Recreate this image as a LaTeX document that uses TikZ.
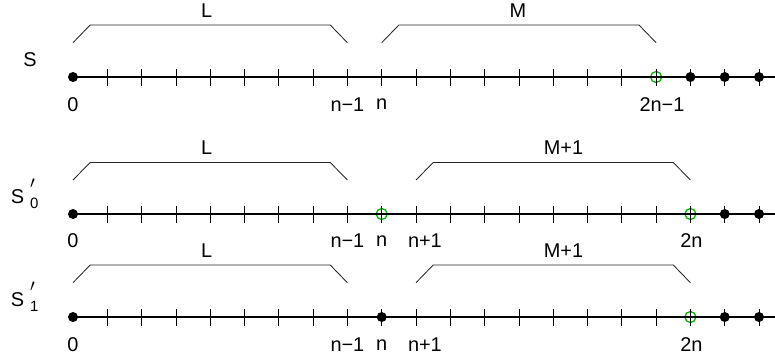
\documentclass[tikz,border=0pt]{standalone}
\usepackage{fontspec}
\setmainfont{Liberation Sans}
\definecolor{xgreen}{HTML}{00B400}
\newcommand{\primed}[1]{S\kern6bp\makebox[0pt][l]{\raisebox{15bp}{\fontsize{17}{17}\selectfont$\prime$}}\raisebox{-5bp}{\fontsize{15}{15}\selectfont #1}}

\begin{document}
\begin{tikzpicture}[
    x=34.3bp, y=-1bp,
    axis/.style={line width=1.4bp},
    tickmark/.style={line width=0.75bp},
    brace/.style={line width=0.85bp, black!85},
    filled/.style={circle, fill=black, inner sep=0pt, minimum size=10bp},
    hollow/.style={circle, draw=xgreen, line width=1.3bp, inner sep=0pt, minimum size=11bp},
    lab/.style={font=\fontsize{20}{22}\selectfont, inner sep=0pt},
]
\useasboundingbox (-2.128,0) rectangle (20.466,362);

% Row S
\node[lab, anchor=base west] (nameS) at (-1.45,66.7) {S};
\node[hollow] (a17) at (17,77) {};
\coordinate (aend) at (20.466,77);
\draw[axis] (0,77) -- (aend);
\foreach \i in {1,...,20} \draw[tickmark] (\i,68.5) -- (\i,85.5);
\foreach \i in {0,18,19,20} \node[filled] (a\i) at (\i,77) {};
\draw[brace] (0,42.7) -- (0.5,25) -- (7.5,25) -- (8,42.7);
\draw[brace] (9,42.7) -- (9.5,25) -- (16.5,25) -- (17,42.7);
\node[lab] (aL) at (3.9,10.5) {L};
\node[lab] (aM) at (12.97,10.5) {M};
\node[lab] (a0lab) at (0,104.5) {0};
\node[lab] (a8lab) at (8,104.5) {n−1};
\node[lab] (a9lab) at (9,104.5) {n};
\node[lab] (a17lab) at (17.17,104.5) {2n−1};

% Row S'_0
\node[lab, anchor=base west] (nameSa) at (-1.82,203) {\primed{0}};
\node[hollow] (b9) at (9,214) {};
\node[hollow] (b18) at (18,214) {};
\coordinate (bend) at (20.466,214);
\draw[axis] (0,214) -- (bend);
\foreach \i in {1,...,20} \draw[tickmark] (\i,205.5) -- (\i,222.5);
\foreach \i in {0,19,20} \node[filled] (b\i) at (\i,214) {};
\draw[brace] (0,180) -- (0.5,162.5) -- (7.5,162.5) -- (8,180);
\draw[brace] (10,180) -- (10.5,162.5) -- (17.5,162.5) -- (18,180);
\node[lab] (bL) at (3.9,148) {L};
\node[lab] (bM) at (14.3,148) {M+1};
\node[lab] (b0lab) at (0,241) {0};
\node[lab] (b8lab) at (8,241) {n−1};
\node[lab] (b9lab) at (9,241) {n};
\node[lab] (b10lab) at (10.26,241) {n+1};
\node[lab] (b18lab) at (18.03,241) {2n};

% Row S'_1
\node[lab, anchor=base west] (nameSb) at (-1.82,306.7) {\primed{1}};
\node[hollow] (c18) at (18,317) {};
\coordinate (cend) at (20.466,317);
\draw[axis] (0,317) -- (cend);
\foreach \i in {1,...,20} \draw[tickmark] (\i,308.5) -- (\i,325.5);
\foreach \i in {0,9,19,20} \node[filled] (c\i) at (\i,317) {};
\draw[brace] (0,282.7) -- (0.5,265) -- (7.5,265) -- (8,282.7);
\draw[brace] (10,282.7) -- (10.5,265) -- (17.5,265) -- (18,282.7);
\node[lab] (cL) at (3.9,251) {L};
\node[lab] (cM) at (14.3,251) {M+1};
\node[lab] (c0lab) at (0,345) {0};
\node[lab] (c8lab) at (8,345) {n−1};
\node[lab] (c9lab) at (9,345) {n};
\node[lab] (c10lab) at (10.26,345) {n+1};
\node[lab] (c18lab) at (18.03,345) {2n};

\end{tikzpicture}
\end{document}
